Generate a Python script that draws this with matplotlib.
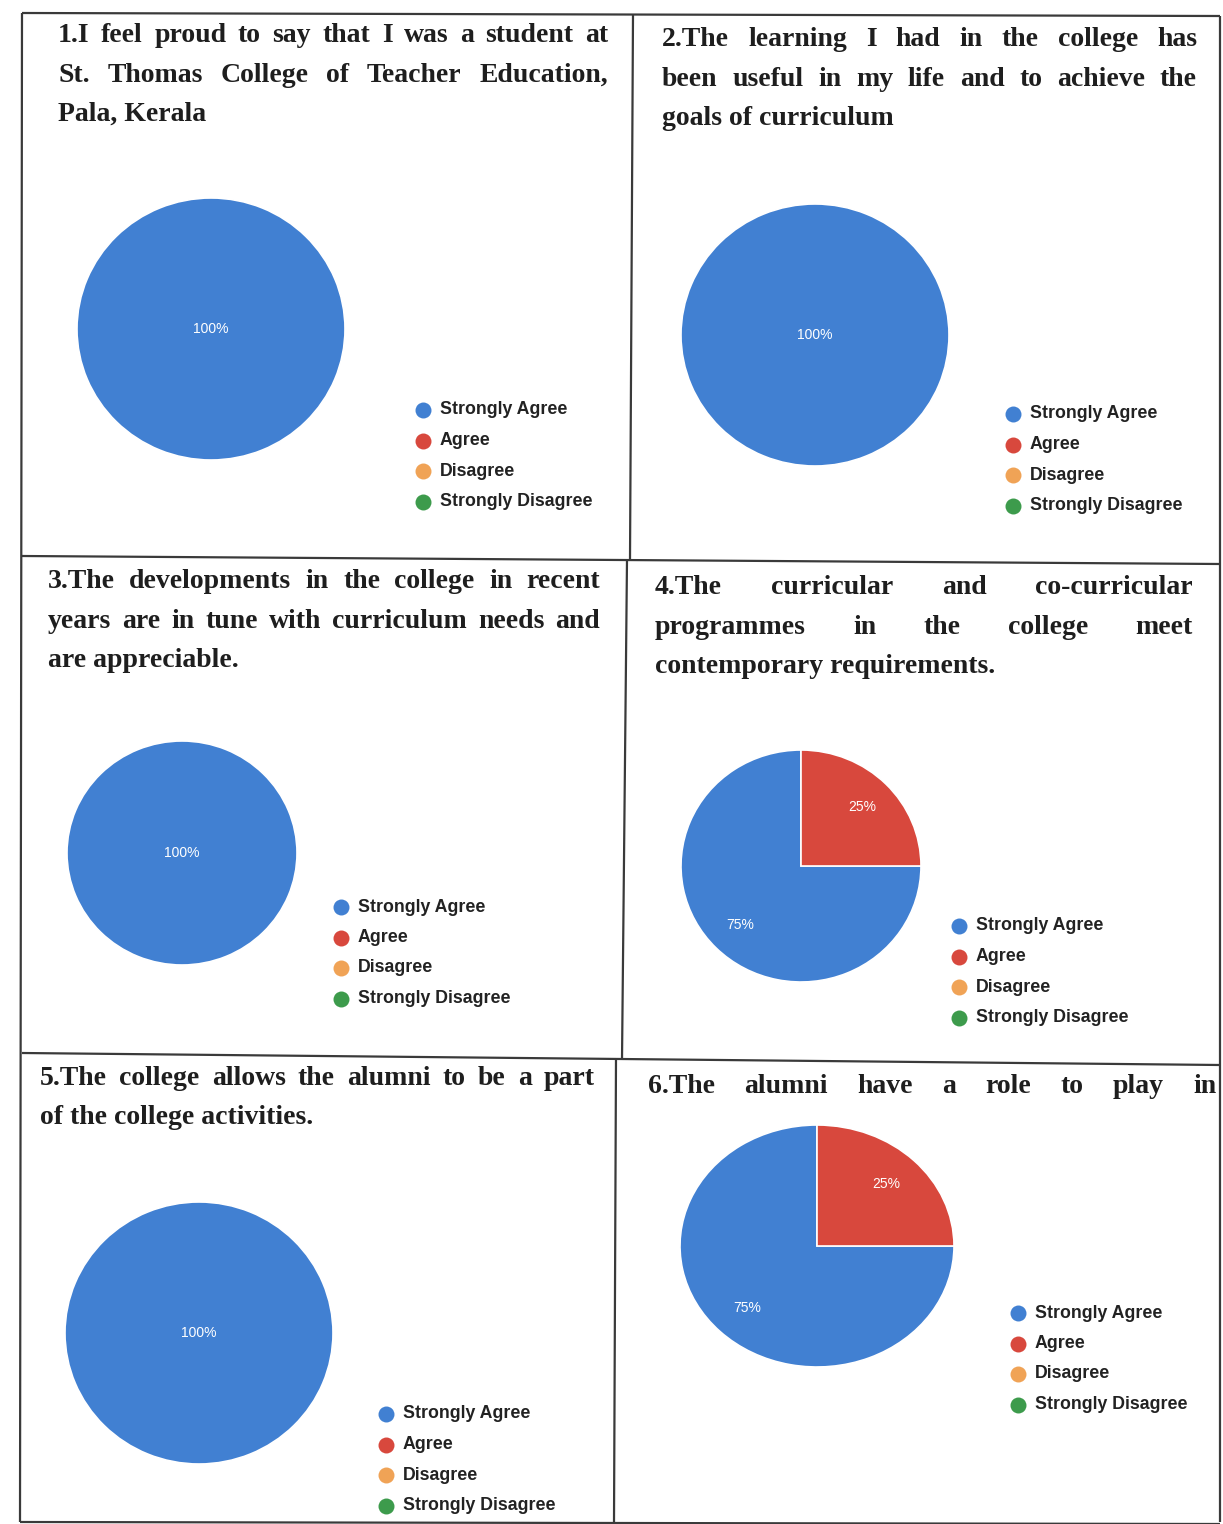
import matplotlib
matplotlib.use('Agg')
import matplotlib.pyplot as plt

W, H = 1223, 1524

# survey answers (percent of respondents)
categories = ['Strongly Agree', 'Agree', 'Disagree', 'Strongly Disagree']
colors = ['#4180d2', '#d8483d', '#f0a356', '#3d9b4c']

q1 = [100, 0, 0, 0]
q2 = [100, 0, 0, 0]
q3 = [100, 0, 0, 0]
q4 = [75, 25, 0, 0]
q5 = [100, 0, 0, 0]
q6 = [75, 25, 0, 0]

t1 = ['1.I feel proud to say that I was a student at',
      'St. Thomas College of Teacher Education,',
      'Pala, Kerala']
t2 = ['2.The learning I had in the college has',
      'been useful in my life and to achieve the',
      'goals of curriculum']
t3 = ['3.The developments in the college in recent',
      'years are in tune with curriculum needs and',
      'are appreciable.']
t4 = ['4.The curricular and co-curricular',
      'programmes in the college meet',
      'contemporary requirements.']
t5 = ['5.The college allows the alumni to be a part',
      'of the college activities.']
t6 = ['6.The alumni have a role to play in']

# layout in pixels: pie (cx, cy, rx, ry), legend (x, y), title (x0, x1, y, justify last line)
panels = [
    (q1, t1, (211, 329, 134, 131), (423, 410), (58, 608, 42, False)),
    (q2, t2, (815, 335, 134, 131), (1013, 414), (662, 1197, 46, False)),
    (q3, t3, (182, 853, 115, 112), (341, 907), (48, 600, 588, False)),
    (q4, t4, (801, 866, 120, 116), (959, 926), (655, 1193, 594, False)),
    (q5, t5, (199, 1333, 134, 131), (386, 1414), (40, 595, 1085, False)),
    (q6, t6, (817, 1246, 137, 121), (1018, 1313), (648, 1216, 1093, True)),
]

fig = plt.figure(figsize=(W / 100, H / 100), dpi=100)
bg = fig.add_axes([0, 0, 1, 1])
bg.set_xlim(0, W)
bg.set_ylim(H, 0)
bg.axis('off')
r = fig.canvas.get_renderer()

# table grid (scan is slightly skewed)
grid = [((22, 1220), (13, 16)), ((22, 20), (13, 1522)), ((1220, 1220), (16, 1522)),
        ((20, 1220), (1522, 1524)), ((22, 1220), (556, 564)), ((22, 1220), (1053, 1065)),
        ((633, 630), (15, 560)), ((627, 622), (560, 1060)), ((616, 614), (1058, 1522))]
for xs, ys in grid:
    bg.plot(xs, ys, color='#3a3a3a', lw=1.6, solid_capstyle='butt')

FS = 20
LH = 39.5
TSTYLE = dict(fontsize=FS, family='Liberation Serif', weight='bold', va='baseline', color='#1e1e1e')


def put_line(text, x0, x1, y, justify):
    if not justify:
        bg.text(x0, y, text, **TSTYLE)
        return
    words = text.split()
    arts = [bg.text(x0, y, w, **TSTYLE) for w in words]
    widths = [a.get_window_extent(r).width for a in arts]
    gap = (x1 - x0 - sum(widths)) / (len(words) - 1)
    x = x0
    for a, w in zip(arts, widths):
        a.set_x(x)
        x += w + gap


for vals, title, (cx, cy, rx, ry), (lx, ly), (x0, x1, ty, last_full) in panels:
    for i, line in enumerate(title):
        just = i < len(title) - 1 or last_full
        put_line(line, x0, x1, ty + i * LH, just)

    ax = fig.add_axes([(cx - rx) / W, 1 - (cy + ry) / H, 2 * rx / W, 2 * ry / H])
    full = max(vals) == 100
    wedges, _, autos = ax.pie(vals, colors=colors, startangle=90, counterclock=True,
                              autopct=lambda p: f'{p:.0f}%' if p > 0.5 else '',
                              pctdistance=0 if full else 0.72,
                              wedgeprops=dict(edgecolor='white', linewidth=1.2),
                              textprops=dict(color='white', fontsize=10, family='Liberation Sans'))
    for wd, v in zip(wedges, vals):
        if v == 0:
            wd.set_linewidth(0)
    ax.set_xlim(-1, 1)
    ax.set_ylim(-1, 1)
    ax.set_aspect('auto')

    for k, (name, c) in enumerate(zip(categories, colors)):
        yy = ly + k * 30.5
        bg.plot(lx, yy, 'o', ms=11.5, color=c, mec='none')
        bg.text(lx + 17, yy, name, fontsize=12.8, weight='bold', family='Liberation Sans',
                va='center', color='#222222')

fig.savefig('out.png', dpi=100)
